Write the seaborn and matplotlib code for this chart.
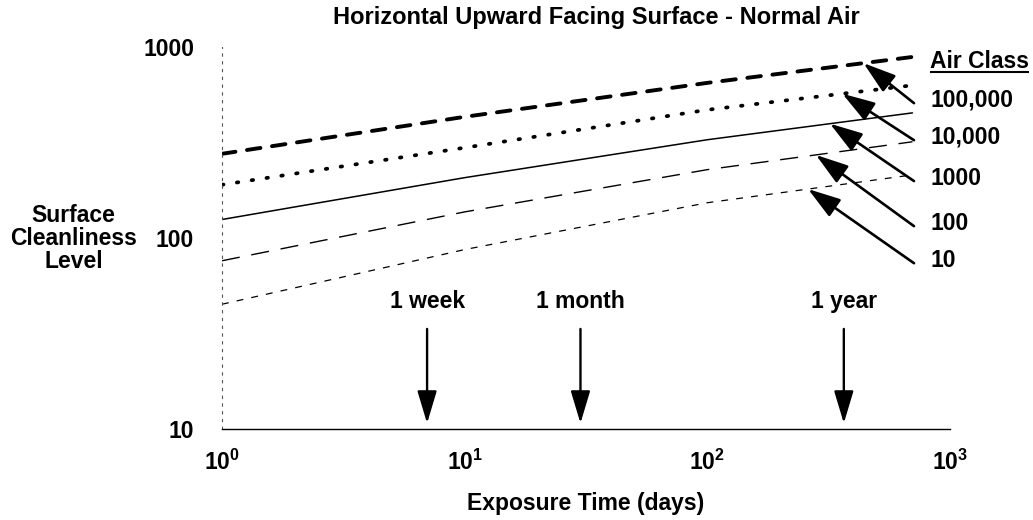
import numpy as np
import pandas as pd
import matplotlib
matplotlib.use("Agg")
import matplotlib.pyplot as plt
import seaborn as sns

# Exposure time (days) at which the cleanliness level was read
days = [1, 10, 100, 700]

# Surface cleanliness level for each air class
class_labels = ["100,000", "10,000", "1000", "100", "10"]
level_100000 = [276, 431, 649, 887]
level_10000 = [190, 297, 469, 630]
level_1000 = [125, 207, 327, 452]
level_100 = [76, 137, 228, 319]
level_10 = [45, 87, 153, 214]

# Day on each curve that its class label points to
pointer_days = [440, 360, 320, 280, 260]

# Reference exposure times
event_days = [7, 30, 365]
event_labels = ["1 week", "1 month", "1 year"]

x_ticks = [1, 10, 100, 1000]
x_tick_labels = [r"$10^{0}$", r"$10^{1}$", r"$10^{2}$", r"$10^{3}$"]
y_ticks = [10, 100, 1000]
y_tick_labels = ["10", "100", "1000"]

levels = [level_100000, level_10000, level_1000, level_100, level_10]
df = pd.DataFrame({
    "days": days * len(class_labels),
    "level": [v for series in levels for v in series],
    "air_class": [c for c in class_labels for _ in days],
})

sns.set_theme(style="white")
plt.rcParams["font.family"] = ["Liberation Sans", "DejaVu Sans"]
plt.rcParams["font.weight"] = "bold"
plt.rcParams["text.color"] = "black"
plt.rcParams["axes.labelcolor"] = "black"
plt.rcParams["xtick.color"] = "black"
plt.rcParams["ytick.color"] = "black"
plt.rcParams["mathtext.fontset"] = "custom"
plt.rcParams["mathtext.rm"] = "Liberation Sans:bold"
plt.rcParams["mathtext.it"] = "Liberation Sans:bold"
plt.rcParams["mathtext.bf"] = "Liberation Sans:bold"

FS = 16.5

fig = plt.figure(figsize=(10.33, 5.2), dpi=100)
ax = fig.add_axes([0.2149, 0.175, 0.7048, 0.7346])

line_styles = {
    "100,000": dict(lw=2.8, linestyle=(0, (3.5, 3.0)), dash_capstyle="round"),
    "10,000": dict(lw=2.7, linestyle=(0, (0.4, 3.6)), dash_capstyle="round"),
    "1000": dict(lw=1.1, linestyle="-"),
    "100": dict(lw=1.0, linestyle=(0, (13, 8.5))),
    "10": dict(lw=0.9, linestyle=(0, (5.5, 6.5))),
}

for cls in class_labels:
    sub = df[df["air_class"] == cls]
    sns.lineplot(data=sub, x="days", y="level", ax=ax, color="black",
                 legend=False, **line_styles[cls])

ax.set_xscale("log")
ax.set_yscale("log")
ax.set_xlim(1, 1000)
ax.set_ylim(10, 1000)

ax.set_xticks(x_ticks)
ax.set_xticklabels(x_tick_labels)
ax.set_yticks(y_ticks)
ax.set_yticklabels(y_tick_labels)
ax.minorticks_off()
ax.tick_params(axis="both", length=0, labelsize=FS, colors="black")
ax.tick_params(axis="y", pad=20)
ax.tick_params(axis="x", pad=15)

for side in ["top", "right"]:
    ax.spines[side].set_visible(False)
ax.spines["bottom"].set_color("black")
ax.spines["bottom"].set_linewidth(1.0)
ax.spines["left"].set_color("#555555")
ax.spines["left"].set_linewidth(0.8)
ax.spines["left"].set_linestyle((0, (2, 5)))

fig.text(0.577, 0.967, "Horizontal Upward Facing Surface - Normal Air",
         ha="center", va="center", fontsize=17, fontweight="bold")
ax.set_xlabel("Exposure Time (days)", fontsize=FS, fontweight="bold",
              va="center")
ax.xaxis.set_label_coords(0.5, -0.194)
ax.set_ylabel("Surface\nCleanliness\nLevel", fontsize=FS, fontweight="bold",
              rotation=0, ha="center", va="center", linespacing=1.0)
ax.yaxis.set_label_coords(-0.204, 0.50)

# Reference exposure markers
for d, lab in zip(event_days, event_labels):
    ax.annotate("", xy=(d, 0.015), xytext=(d, 0.262),
                xycoords=("data", "axes fraction"),
                textcoords=("data", "axes fraction"),
                arrowprops=dict(arrowstyle="-|>,head_length=1.0,head_width=0.3",
                                mutation_scale=20, lw=1.7, color="black",
                                shrinkA=0, shrinkB=0))
    ax.text(d, 0.335, lab, transform=ax.get_xaxis_transform(),
            ha="center", va="center", fontsize=FS, fontweight="bold")

# Air class labels with pointers to their curves
label_x = 0.9725
tail_x = 0.9505
label_y = [0.861, 0.764, 0.657, 0.539, 0.442]
log_days = np.log10(days)
for cls, series, pday, ly in zip(class_labels, levels, pointer_days, label_y):
    head_level = 10 ** np.interp(np.log10(pday), log_days, np.log10(series))
    ax.annotate("", xy=(pday, head_level), xycoords="data",
                xytext=(tail_x, ly - 0.008), textcoords="axes fraction",
                arrowprops=dict(arrowstyle="-|>,head_length=1.0,head_width=0.32",
                                mutation_scale=20, lw=1.9, color="black",
                                shrinkA=0, shrinkB=0),
                annotation_clip=False)
    ax.text(label_x, ly, cls, transform=ax.transAxes, ha="left",
            va="center", fontsize=FS, fontweight="bold")

header = ax.text(label_x, 0.961, "Air Class", transform=ax.transAxes,
                 ha="left", va="center", fontsize=FS, fontweight="bold")
fig.canvas.draw()
bb = header.get_window_extent().transformed(ax.transAxes.inverted())
ax.plot([bb.x0, bb.x1], [bb.y0 + 0.004, bb.y0 + 0.004],
        transform=ax.transAxes, color="black", lw=1.5, clip_on=False,
        solid_capstyle="butt")

fig.savefig("out.png", dpi=100)
